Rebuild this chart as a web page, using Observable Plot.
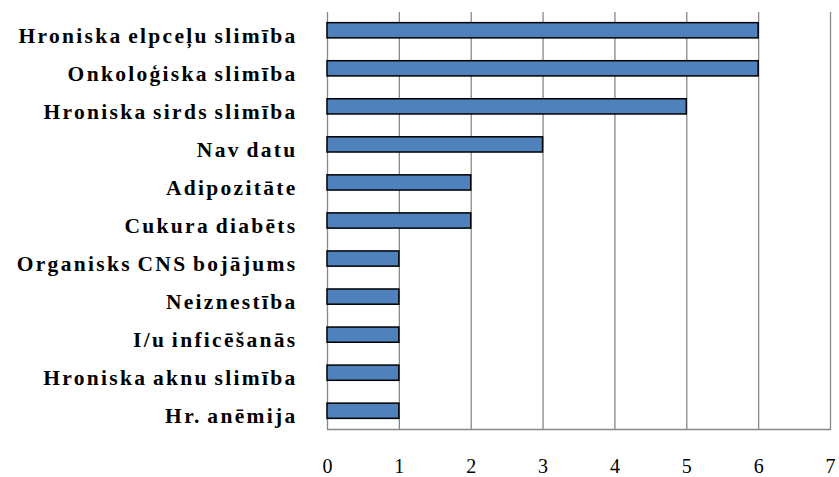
<!DOCTYPE html>
<html><head><meta charset="utf-8">
<script src="https://cdn.jsdelivr.net/npm/d3@7"></script>
<script src="https://cdn.jsdelivr.net/npm/@observablehq/plot@0.6"></script>
<style>
body{margin:0;background:#fff}
g[aria-label="y-axis tick label"] text{letter-spacing:2.3px;word-spacing:-2px}
</style>
</head><body><div id="chart"></div>
<script>
const categories = ["Hroniska elpceļu slimība","Onkoloģiska slimība","Hroniska sirds slimība","Nav datu","Adipozitāte","Cukura diabēts","Organisks CNS bojājums","Neiznestība","I/u inficēšanās","Hroniska aknu slimība","Hr. anēmija"];
const values = [6,6,5,3,2,2,1,1,1,1,1];
const xTicks = [0,1,2,3,4,5,6,7];
const data = categories.map((c,i)=>({cat:c, v:values[i]}));
const chart = Plot.plot({
  width: 839, height: 477,
  marginLeft: 327, marginRight: 9, marginTop: 12, marginBottom: 48,
  style: {fontFamily: "'Liberation Serif','Times New Roman',serif", background: "#fff"},
  x: {domain: [0,7]},
  y: {domain: categories, paddingInner: 0.6, paddingOuter: 0.28, round: false},
  marks: [
    Plot.gridX(xTicks, {stroke: "#888", strokeOpacity: 1, strokeWidth: 1.3}),
    Plot.frame({anchor: "bottom", stroke: "#888", strokeWidth: 1.3}),
    Plot.barX(data, {y: "cat", x: "v", fill: "#4F81BD", stroke: "#000", strokeWidth: 1.5}),
    Plot.axisX(xTicks, {tickSize: 0, tickPadding: 29, fontSize: 20, fill: "#000", label: null, tickFormat: d=>d}),
    Plot.axisY({tickSize: 0, tickPadding: 30, dy: 5, fontSize: 21.5, fontWeight: "bold", fill: "#000", label: null})
  ]
});
document.getElementById("chart").appendChild(chart);
</script></body></html>
